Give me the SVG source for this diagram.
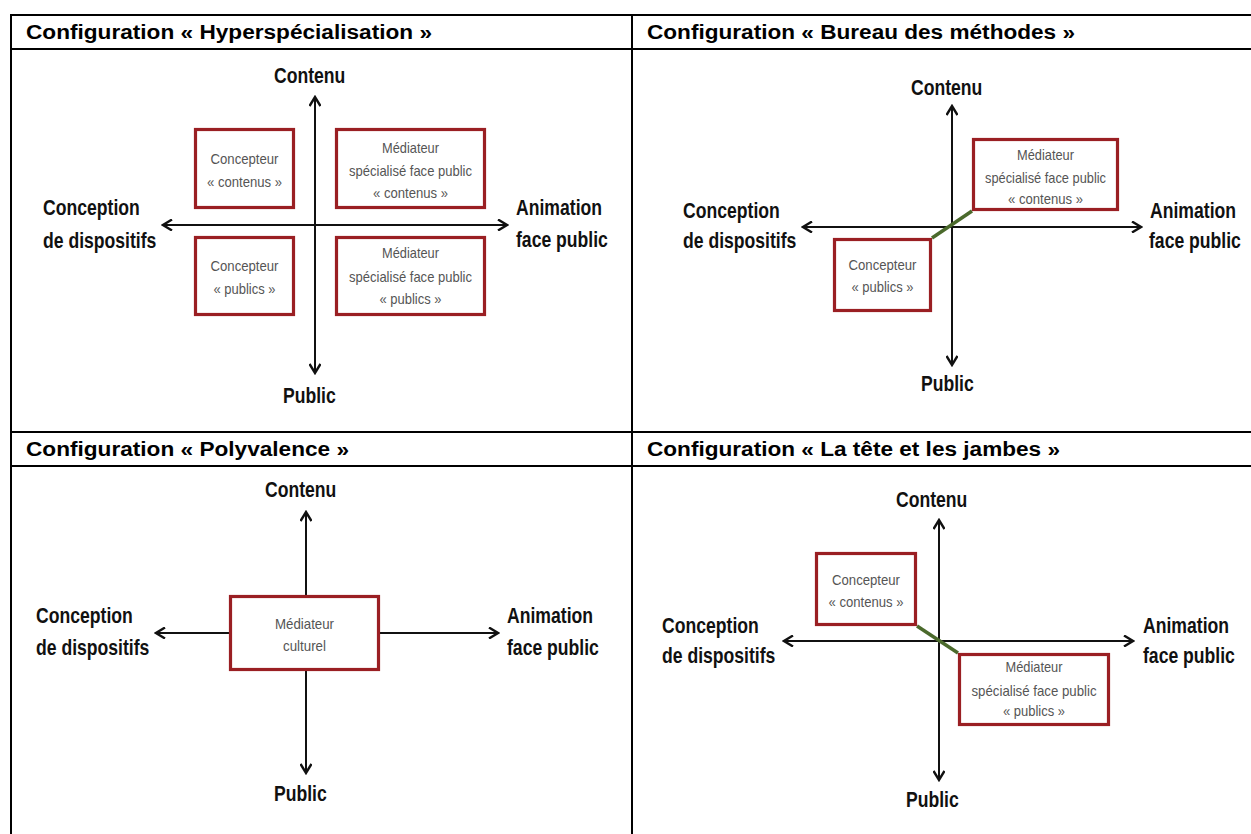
<svg xmlns="http://www.w3.org/2000/svg" width="1251" height="834" viewBox="0 0 1251 834">
<style>
.tbl{stroke:#000;stroke-width:2;fill:none}
.hdr{font-family:"Liberation Sans",Arial,sans-serif;font-weight:bold;font-size:19.5px;fill:#000}
.ax{font-family:"Liberation Sans",Arial,sans-serif;font-weight:bold;font-size:17.6px;fill:#111}
.bt{font-family:"Liberation Sans",Arial,sans-serif;font-size:14.5px;fill:#555;text-anchor:middle}
.box{fill:#fff;stroke:#9a1f23;stroke-width:3.2}
.axis{stroke:#111;stroke-width:2;fill:none;marker-end:url(#arr)}
.axis2{stroke:#111;stroke-width:2;fill:none;marker-end:url(#arr);marker-start:url(#arr)}
.link{stroke:#4b6a2c;stroke-width:3.5;fill:none}
</style>
<defs>
<marker id="arr" viewBox="0 0 12 12" refX="10" refY="6" markerWidth="12" markerHeight="12" markerUnits="userSpaceOnUse" orient="auto-start-reverse">
<path d="M1,0.5 L10,6 L1,11.5" fill="none" stroke="#111" stroke-width="2.4"/>
</marker>
</defs>
<rect width="1251" height="834" fill="#fff"/>
<g id="table">
<line class="tbl" x1="11" y1="15" x2="1251" y2="15"/>
<line class="tbl" x1="11" y1="49" x2="1251" y2="49"/>
<line class="tbl" x1="11" y1="432" x2="1251" y2="432" stroke-width="2.5"/>
<line class="tbl" x1="11" y1="466" x2="1251" y2="466"/>
<line class="tbl" x1="11" y1="14" x2="11" y2="834"/>
<line class="tbl" x1="632" y1="14" x2="632" y2="834"/>
</g>
<g id="headers">
<text class="hdr" x="26" y="39" textLength="406" lengthAdjust="spacingAndGlyphs">Configuration « Hyperspécialisation »</text>
<text class="hdr" x="647" y="39" textLength="428" lengthAdjust="spacingAndGlyphs">Configuration « Bureau des méthodes »</text>
<text class="hdr" x="26" y="456" textLength="323" lengthAdjust="spacingAndGlyphs">Configuration « Polyvalence »</text>
<text class="hdr" x="647" y="456" textLength="413" lengthAdjust="spacingAndGlyphs">Configuration « La tête et les jambes »</text>
</g>
<g id="connectors">
<line class="axis2" x1="315" y1="373" x2="315" y2="97"/>
<line class="axis2" x1="163" y1="225" x2="507" y2="225"/>
<line class="axis2" x1="952" y1="365" x2="952" y2="106"/>
<line class="axis2" x1="803" y1="227" x2="1141" y2="227"/>
<line class="link" x1="932" y1="238" x2="972" y2="211"/>
<line class="axis" x1="306" y1="595" x2="306" y2="512"/>
<line class="axis" x1="306" y1="671" x2="306" y2="773"/>
<line class="axis" x1="229" y1="633" x2="156" y2="633"/>
<line class="axis" x1="380" y1="633" x2="498" y2="633"/>
<line class="axis2" x1="939" y1="780" x2="939" y2="520"/>
<line class="axis2" x1="784" y1="641" x2="1133" y2="641"/>
<line class="link" x1="917" y1="626" x2="958" y2="653"/>
</g>
<g id="axis-labels">
<text class="ax" transform="translate(274,83) scale(1,1.22)">Contenu</text>
<text class="ax" transform="translate(43,215) scale(1,1.22)">Conception</text>
<text class="ax" transform="translate(43,248) scale(1,1.22)">de dispositifs</text>
<text class="ax" transform="translate(516,215) scale(1,1.22)">Animation</text>
<text class="ax" transform="translate(516,247) scale(1,1.22)">face public</text>
<text class="ax" transform="translate(283,403) scale(1,1.22)">Public</text>

<text class="ax" transform="translate(911,95) scale(1,1.22)">Contenu</text>
<text class="ax" transform="translate(683,218) scale(1,1.22)">Conception</text>
<text class="ax" transform="translate(683,248) scale(1,1.22)">de dispositifs</text>
<text class="ax" transform="translate(1150,218) scale(1,1.22)">Animation</text>
<text class="ax" transform="translate(1149,248) scale(1,1.22)">face public</text>
<text class="ax" transform="translate(921,391) scale(1,1.22)">Public</text>

<text class="ax" transform="translate(265,497) scale(1,1.22)">Contenu</text>
<text class="ax" transform="translate(36,623) scale(1,1.22)">Conception</text>
<text class="ax" transform="translate(36,655) scale(1,1.22)">de dispositifs</text>
<text class="ax" transform="translate(507,623) scale(1,1.22)">Animation</text>
<text class="ax" transform="translate(507,655) scale(1,1.22)">face public</text>
<text class="ax" transform="translate(274,801) scale(1,1.22)">Public</text>

<text class="ax" transform="translate(896,507) scale(1,1.22)">Contenu</text>
<text class="ax" transform="translate(662,633) scale(1,1.22)">Conception</text>
<text class="ax" transform="translate(662,663) scale(1,1.22)">de dispositifs</text>
<text class="ax" transform="translate(1143,633) scale(1,1.22)">Animation</text>
<text class="ax" transform="translate(1143,663) scale(1,1.22)">face public</text>
<text class="ax" transform="translate(906,807) scale(1,1.22)">Public</text>
</g>
<g id="p1-concepteur-contenus">
<rect class="box" x="195.5" y="129.5" width="98" height="78"/>
<text class="bt" x="244.5" y="163.5" textLength="68" lengthAdjust="spacingAndGlyphs">Concepteur</text>
<text class="bt" x="244.5" y="186.5" textLength="75" lengthAdjust="spacingAndGlyphs">« contenus »</text>
</g>
<g id="p1-mediateur-contenus">
<rect class="box" x="336.5" y="129.5" width="148" height="78"/>
<text class="bt" x="410.5" y="153" textLength="57" lengthAdjust="spacingAndGlyphs">Médiateur</text>
<text class="bt" x="410.5" y="176" textLength="123" lengthAdjust="spacingAndGlyphs">spécialisé face public</text>
<text class="bt" x="410.5" y="198" textLength="75" lengthAdjust="spacingAndGlyphs">« contenus »</text>
</g>
<g id="p1-concepteur-publics">
<rect class="box" x="195.5" y="237.5" width="98" height="77"/>
<text class="bt" x="244.5" y="270.5" textLength="68" lengthAdjust="spacingAndGlyphs">Concepteur</text>
<text class="bt" x="244.5" y="293.5" textLength="62" lengthAdjust="spacingAndGlyphs">« publics »</text>
</g>
<g id="p1-mediateur-publics">
<rect class="box" x="336.5" y="237.5" width="148" height="77"/>
<text class="bt" x="410.5" y="258" textLength="57" lengthAdjust="spacingAndGlyphs">Médiateur</text>
<text class="bt" x="410.5" y="282" textLength="123" lengthAdjust="spacingAndGlyphs">spécialisé face public</text>
<text class="bt" x="410.5" y="304" textLength="62" lengthAdjust="spacingAndGlyphs">« publics »</text>
</g>
<g id="p2-mediateur-contenus">
<rect class="box" x="973.5" y="139.5" width="144" height="70"/>
<text class="bt" x="1045.5" y="160" textLength="57" lengthAdjust="spacingAndGlyphs">Médiateur</text>
<text class="bt" x="1045.5" y="182.5" textLength="121" lengthAdjust="spacingAndGlyphs">spécialisé face public</text>
<text class="bt" x="1045.5" y="203.5" textLength="75" lengthAdjust="spacingAndGlyphs">« contenus »</text>
</g>
<g id="p2-concepteur-publics">
<rect class="box" x="834.5" y="239.5" width="96" height="71"/>
<text class="bt" x="882.5" y="269.5" textLength="68" lengthAdjust="spacingAndGlyphs">Concepteur</text>
<text class="bt" x="882.5" y="291.5" textLength="62" lengthAdjust="spacingAndGlyphs">« publics »</text>
</g>
<g id="p3-mediateur-culturel">
<rect class="box" x="230.5" y="596.5" width="148" height="73"/>
<text class="bt" x="304.5" y="628.5" textLength="59" lengthAdjust="spacingAndGlyphs">Médiateur</text>
<text class="bt" x="304.5" y="650.5" textLength="43" lengthAdjust="spacingAndGlyphs">culturel</text>
</g>
<g id="p4-concepteur-contenus">
<rect class="box" x="816.5" y="553.5" width="99" height="71"/>
<text class="bt" x="866" y="584.5" textLength="68" lengthAdjust="spacingAndGlyphs">Concepteur</text>
<text class="bt" x="866" y="606.5" textLength="75" lengthAdjust="spacingAndGlyphs">« contenus »</text>
</g>
<g id="p4-mediateur-publics">
<rect class="box" x="959.5" y="654.5" width="149" height="70"/>
<text class="bt" x="1034" y="672" textLength="57" lengthAdjust="spacingAndGlyphs">Médiateur</text>
<text class="bt" x="1034" y="696" textLength="125" lengthAdjust="spacingAndGlyphs">spécialisé face public</text>
<text class="bt" x="1034" y="716" textLength="62" lengthAdjust="spacingAndGlyphs">« publics »</text>
</g>
</svg>
